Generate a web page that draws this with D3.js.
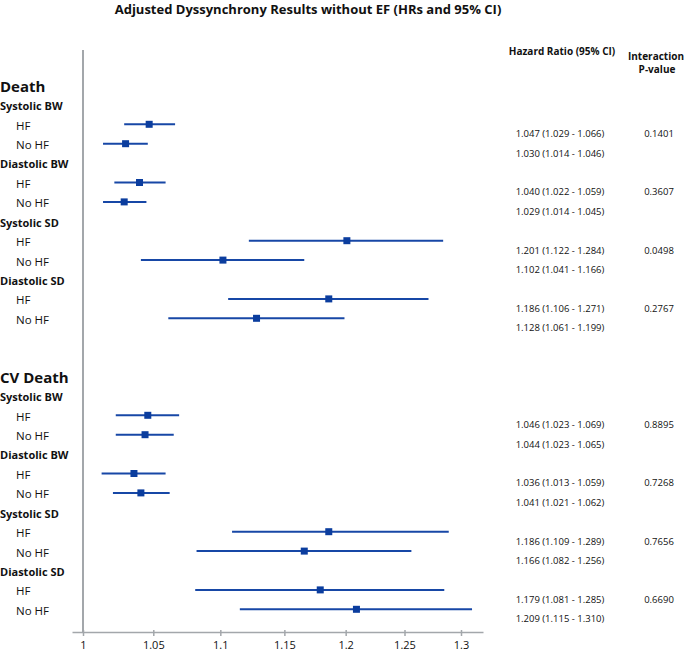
<!DOCTYPE html>
<html>
<head>
<meta charset="utf-8">
<script src="https://cdn.jsdelivr.net/npm/d3@7"></script>
<style>
  body { margin: 0; background: #fff; }
  text { font-family: "Open Sans", "DejaVu Sans", sans-serif; fill: #111; }
</style>
</head>
<body>
<svg id="chartSVG" width="685" height="653"></svg>
<script>
// rows top to bottom: outcome header, measure header, HF, No HF ...
var outcomes = ['Death', 'CV Death'];
var measures = ['Systolic BW', 'Diastolic BW', 'Systolic SD', 'Diastolic SD'];
var groups = ['HF', 'No HF'];

// hazard ratios, [outcome][measure][group]
var hr = [
  [[1.047, 1.030], [1.040, 1.029], [1.201, 1.102], [1.186, 1.128]],
  [[1.046, 1.044], [1.036, 1.041], [1.186, 1.166], [1.179, 1.209]]
];
var lower = [
  [[1.029, 1.014], [1.022, 1.014], [1.122, 1.041], [1.106, 1.061]],
  [[1.023, 1.023], [1.013, 1.021], [1.109, 1.082], [1.081, 1.115]]
];
var upper = [
  [[1.066, 1.046], [1.059, 1.045], [1.284, 1.166], [1.271, 1.199]],
  [[1.069, 1.065], [1.059, 1.062], [1.289, 1.256], [1.285, 1.310]]
];
var pInteraction = [
  ['0.1401', '0.3607', '0.0498', '0.2767'],
  ['0.8895', '0.7268', '0.7656', '0.6690']
];
var tickLabels = [1, 1.05, 1.1, 1.15, 1.2, 1.25, 1.3];

var svg = d3.select('#chartSVG');
var rowH = 19.4;
var row0 = 87;
var blue = '#0b3d9e';

var x = d3.scaleLog().domain([1, 1.3]).range([83, 461]);
var xAxisScale = x.copy().domain([x.invert(72), x.invert(483)]).range([72, 483]);

// build row list
var rows = [];
var r = 0;
outcomes.forEach(function(o, oi) {
  rows.push({type: 'outcome', label: o, row: r++});
  measures.forEach(function(m, mi) {
    rows.push({type: 'measure', label: m, row: r++});
    groups.forEach(function(g, gi) {
      rows.push({type: 'group', label: g, row: r++,
        hr: hr[oi][mi][gi], lo: lower[oi][mi][gi], hi: upper[oi][mi][gi],
        p: gi === 0 ? pInteraction[oi][mi] : null});
    });
  });
  r += 2;
});
function yRow(d) { return row0 + d.row * rowH; }

// title
svg.append('text')
  .attr('x', 308).attr('y', 14)
  .attr('text-anchor', 'middle')
  .style('font-size', '13px').style('font-weight', 'bold')
  .text('Adjusted Dyssynchrony Results without EF (HRs and 95% CI)');

// column headers
svg.append('text').attr('x', 562).attr('y', 55).attr('text-anchor', 'middle')
  .style('font-size', '10px').style('font-weight', 'bold')
  .text('Hazard Ratio (95% CI)');
svg.append('text').attr('x', 656).attr('y', 60).attr('text-anchor', 'middle')
  .style('font-size', '10px').style('font-weight', 'bold')
  .text('Interaction');
svg.append('text').attr('x', 657).attr('y', 73).attr('text-anchor', 'middle')
  .style('font-size', '10px').style('font-weight', 'bold')
  .text('P-value');

// left labels
svg.selectAll('.rowLabel')
  .data(rows)
  .enter()
  .append('text')
  .attr('class', 'rowLabel')
  .attr('x', function(d) { return d.type === 'group' ? 16 : 0; })
  .attr('y', yRow)
  .attr('dy', '0.35em')
  .style('font-size', function(d) { return d.type === 'outcome' ? '15px' : (d.type === 'measure' ? '11px' : '11.5px'); })
  .style('font-weight', function(d) { return d.type === 'group' ? 'normal' : 'bold'; })
  .text(function(d) { return d.label; });

// vertical reference line at 1
svg.append('line')
  .attr('x1', x(1)).attr('x2', x(1))
  .attr('y1', 50).attr('y2', 632)
  .attr('stroke', '#a3a7ab').attr('stroke-width', 2);

// x axis
var axisG = svg.append('g')
  .attr('transform', 'translate(0,632)')
  .call(d3.axisBottom(xAxisScale)
    .tickValues(tickLabels)
    .tickFormat(function(d) { return String(d); })
    .tickSize(5)
    .tickSizeOuter(0));
axisG.select('.domain').attr('stroke', '#a3a7ab').attr('stroke-width', 1.5);
axisG.selectAll('.tick line').attr('stroke', '#a3a7ab').attr('stroke-width', 1.5).attr('y1', -2).attr('y2', 4);
axisG.selectAll('.tick text')
  .attr('y', 9)
  .style('font-size', '11px')
  .style('font-family', '"Open Sans", sans-serif')
  .attr('fill', '#111');

// CI lines and markers
var est = rows.filter(function(d) { return d.type === 'group'; });
var markG = svg.selectAll('.est')
  .data(est)
  .enter()
  .append('g')
  .attr('class', 'est')
  .attr('transform', function(d) { return 'translate(0,' + (yRow(d) - 1.5) + ')'; });

markG.append('line')
  .attr('x1', function(d) { return x(d.lo); })
  .attr('x2', function(d) { return x(d.hi); })
  .attr('stroke', '#1747a6').attr('stroke-width', 2);

markG.append('rect')
  .attr('x', function(d) { return x(d.hr) - 3.5; })
  .attr('y', -3.5)
  .attr('width', 7).attr('height', 7)
  .attr('fill', blue);

// right text columns
svg.selectAll('.hrText')
  .data(est)
  .enter()
  .append('text')
  .attr('class', 'hrText')
  .attr('x', 560)
  .attr('y', function(d) { return yRow(d) + 8; })
  .attr('dy', '0.35em')
  .attr('text-anchor', 'middle')
  .style('font-size', '9.5px')
  .text(function(d) {
    return d.hr.toFixed(3) + ' (' + d.lo.toFixed(3) + ' - ' + d.hi.toFixed(3) + ')';
  });

svg.selectAll('.pText')
  .data(est.filter(function(d) { return d.p; }))
  .enter()
  .append('text')
  .attr('class', 'pText')
  .attr('x', 659)
  .attr('y', function(d) { return yRow(d) + 8; })
  .attr('dy', '0.35em')
  .attr('text-anchor', 'middle')
  .style('font-size', '9.5px')
  .text(function(d) { return d.p; });
</script>
</body>
</html>
